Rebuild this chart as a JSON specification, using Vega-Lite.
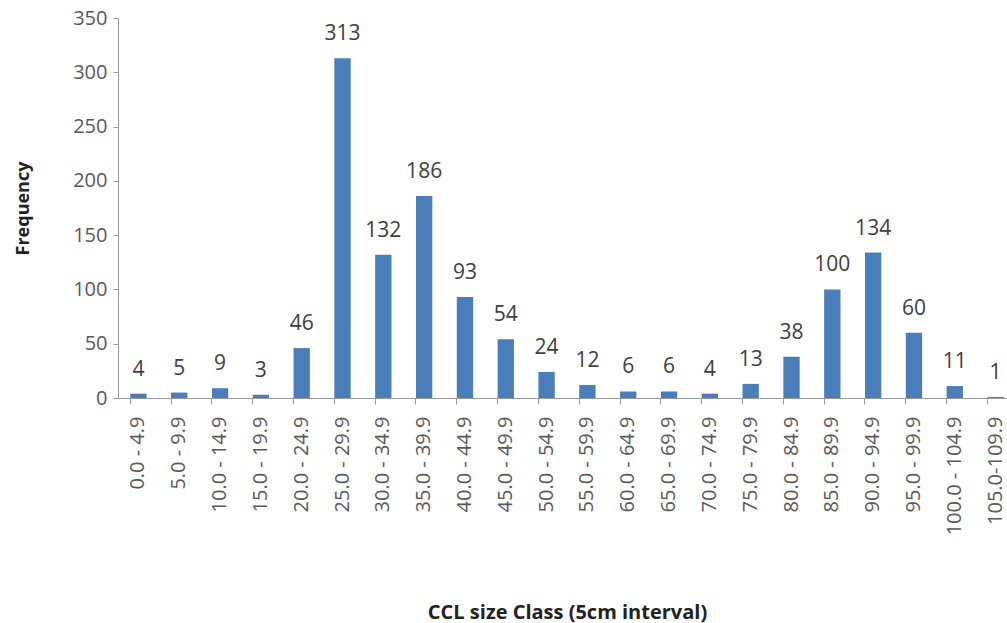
{
  "$schema": "https://vega.github.io/schema/vega-lite/v6.json",
  "width": 889,
  "height": 380,
  "autosize": {"type": "none"},
  "padding": {"left": 118, "top": 18, "right": 0, "bottom": 225},
  "background": "white",
  "config": {"view": {"stroke": null}, "font": "Open Sans"},
  "data": {"values": [
    {"cls": "0.0 - 4.9", "freq": 4},
    {"cls": "5.0 - 9.9", "freq": 5},
    {"cls": "10.0 - 14.9", "freq": 9},
    {"cls": "15.0 - 19.9", "freq": 3},
    {"cls": "20.0 - 24.9", "freq": 46},
    {"cls": "25.0 - 29.9", "freq": 313},
    {"cls": "30.0 - 34.9", "freq": 132},
    {"cls": "35.0 - 39.9", "freq": 186},
    {"cls": "40.0 - 44.9", "freq": 93},
    {"cls": "45.0 - 49.9", "freq": 54},
    {"cls": "50.0 - 54.9", "freq": 24},
    {"cls": "55.0 - 59.9", "freq": 12},
    {"cls": "60.0 - 64.9", "freq": 6},
    {"cls": "65.0 - 69.9", "freq": 6},
    {"cls": "70.0 - 74.9", "freq": 4},
    {"cls": "75.0 - 79.9", "freq": 13},
    {"cls": "80.0 - 84.9", "freq": 38},
    {"cls": "85.0 - 89.9", "freq": 100},
    {"cls": "90.0 - 94.9", "freq": 134},
    {"cls": "95.0 - 99.9", "freq": 60},
    {"cls": "100.0 - 104.9", "freq": 11},
    {"cls": "105.0-109.9", "freq": 1}
  ]},
  "encoding": {
    "x": {
      "field": "cls", "type": "nominal", "sort": null,
      "scale": {"range": [0, 898], "paddingInner": 0.6, "paddingOuter": 0.3},
      "axis": {
        "title": "CCL size Class (5cm interval)",
        "titleFont": "Open Sans", "titleFontSize": 20, "titleFontWeight": "bold", "titleColor": "#222222",
        "titleY": 204, "titleX": 449,
        "labelAngle": -90, "labelFontSize": 20, "labelColor": "#595959", "labelPadding": 12,
        "labelFont": "Open Sans",
        "bandPosition": 0, "tickSize": 6, "tickColor": "#9a9a9a", "domainColor": "#9a9a9a",
        "labelOverlap": false
      }
    },
    "y": {
      "field": "freq", "type": "quantitative",
      "scale": {"domain": [0, 350]},
      "axis": {
        "title": "Frequency", "titleFontSize": 18, "titleFontWeight": "bold", "titleColor": "#222222",
        "titleFont": "Open Sans", "titlePadding": 40,
        "values": [0, 50, 100, 150, 200, 250, 300, 350],
        "grid": false, "labelFontSize": 20, "labelColor": "#595959", "labelFont": "Open Sans",
        "tickSize": 5, "tickColor": "#9a9a9a", "domainColor": "#9a9a9a", "labelPadding": 6
      }
    }
  },
  "layer": [
    {"mark": {"type": "bar", "color": "#4a7ebb"}},
    {"mark": {"type": "text", "dy": -14, "fontSize": 21, "color": "#404040", "font": "Open Sans", "baseline": "bottom"},
     "encoding": {"text": {"field": "freq", "type": "quantitative"}}}
  ]
}
